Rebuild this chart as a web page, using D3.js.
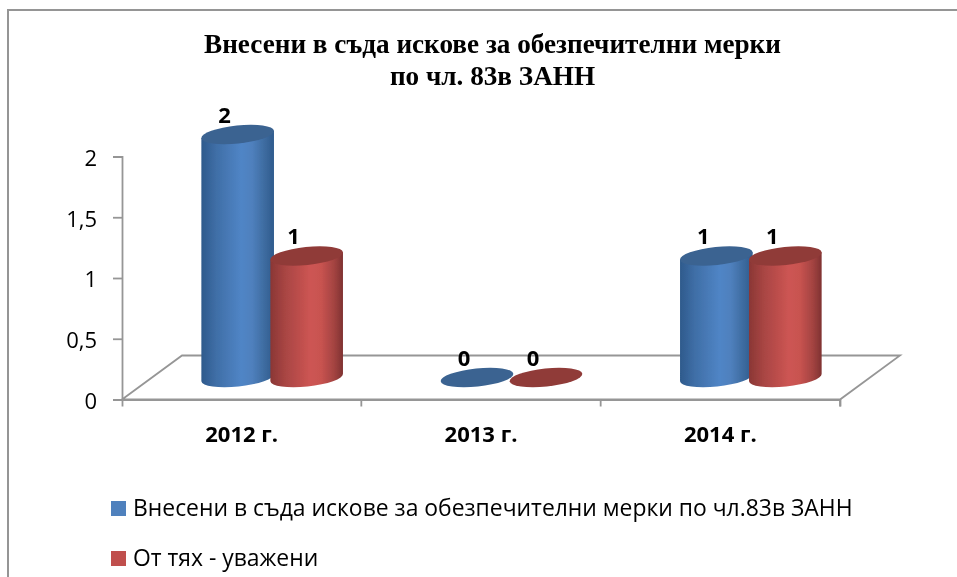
<!DOCTYPE html>
<html><head><meta charset="utf-8">
<style>html,body{margin:0;padding:0;background:#fff}svg{display:block}</style>
<script src="https://cdn.jsdelivr.net/npm/d3@7"></script></head><body>
<svg id="c" width="957" height="577"></svg>
<script>
const titleLines = ["Внесени в съда искове за обезпечителни мерки", "по чл. 83в ЗАНН"];
const categories = ["2012 г.", "2013 г.", "2014 г."];
const seriesNames = ["Внесени в съда искове за обезпечителни мерки по чл.83в ЗАНН", "От тях - уважени"];
const filed = [2, 0, 1];
const granted = [1, 0, 1];
const yTicks = [0, 0.5, 1, 1.5, 2];
const yTickLabels = ["0", "0,5", "1", "1,5", "2"];

const root = d3.select("#c");
const sans = "'Open Sans','Noto Sans',sans-serif";
const axisCol = "#969696";
const depthX = 60, depthY = -44;

const x = d3.scaleBand().domain(categories).range([122, 840]);
const y = d3.scaleLinear().domain([0, 2]).range([399.5, 156.5]);
const sub = d3.scaleBand().domain([0, 1]).range([-69, 69]);

const defs = root.append("defs");
const palette = [
  {id: "g0", stops: ["#2e5a8c", "#3f6ea6", "#5085c6", "#4f80bd", "#3c6a9e", "#2f5b8d"], top: "#3b6391", base: "#4f81bd"},
  {id: "g1", stops: ["#8a3735", "#a84543", "#cd5553", "#c85350", "#a34341", "#7f3231"], top: "#903b39", base: "#c0504d"}
];
palette.forEach(p => {
  const g = defs.append("linearGradient").attr("id", p.id);
  [0, .2, .55, .7, .88, 1].forEach((o, i) => g.append("stop").attr("offset", o).attr("stop-color", p.stops[i]));
});
defs.append("filter").attr("id", "soft")
  .attr("filterUnits", "userSpaceOnUse").attr("x", 0).attr("y", 0).attr("width", 957).attr("height", 577)
  .append("feGaussianBlur").attr("stdDeviation", 0.35);

const svg = root.append("g").attr("filter", "url(#soft)");

// Frame
svg.append("path").attr("d", "M8,577V10H957").attr("fill", "none").attr("stroke", "#959595").attr("stroke-width", 2);

// Floor
const fl = x.range();
svg.append("path")
  .attr("d", `M${fl[0]},${y(0)}L${fl[0] + depthX},${y(0) + depthY}H${fl[1] + depthX}L${fl[1]},${y(0)}Z`)
  .attr("fill", "none").attr("stroke", axisCol).attr("stroke-width", 1.8);

// Y axis
const yAxis = d3.axisLeft(y).tickValues(yTicks).tickSize(9).tickPadding(16)
  .tickFormat((d, i) => yTickLabels[i]);
const ga = svg.append("g").attr("transform", "translate(122,0)").call(yAxis);
ga.select(".domain").attr("stroke", axisCol).attr("stroke-width", 1.8);
ga.selectAll(".tick line").attr("stroke", axisCol).attr("stroke-width", 1.8);
ga.selectAll("text").attr("font-family", sans).attr("font-size", 22).attr("fill", "#000").attr("dy", "0.4em");

// X axis
const xAxis = d3.axisBottom(x).tickSize(7).tickSizeOuter(7).tickPadding(13);
const gx = svg.append("g").attr("transform", `translate(0,${y(0)})`).call(xAxis);
gx.select(".domain").attr("stroke", axisCol).attr("stroke-width", 1.8);
gx.selectAll(".tick line").attr("stroke", axisCol).attr("stroke-width", 1.8)
  .attr("transform", `translate(${x.bandwidth() / 2},0)`);
gx.selectAll("text").attr("font-family", sans).attr("font-size", 22).attr("font-weight", 700).attr("fill", "#000")
  .attr("y", 42).attr("dy", 0);

// Cylinders
const rx = 36.5, ry = 9, tilt = -6;
const cyl = svg.append("g");
const labels = svg.append("g");
const barDx = depthX / 2 + 0.5, barDy = depthY / 2;
[filed, granted].forEach((vals, s) => {
  const p = palette[s];
  categories.forEach((c, i) => {
    const v = vals[i];
    const cx = x(c) + x.bandwidth() / 2 + barDx + sub(s) + sub.bandwidth() / 2;
    const yb = y(0) + barDy, yt = y(v) + barDy;
    const a = tilt * Math.PI / 180;
    const dx = rx * Math.cos(a), dy = rx * Math.sin(a);
    const g = cyl.append("g");
    if (v > 0) {
      g.append("path")
        .attr("d", `M${cx - dx},${yt - dy}L${cx - dx},${yb - dy}A${rx},${ry} ${tilt} 0 0 ${cx + dx},${yb + dy}L${cx + dx},${yt + dy}Z`)
        .attr("fill", `url(#${p.id})`);
    }
    g.append("ellipse").attr("rx", rx).attr("ry", ry)
      .attr("transform", `translate(${cx},${yt}) rotate(${tilt})`)
      .attr("fill", p.top);
    labels.append("text").attr("x", cx - 13).attr("y", yt - 12).attr("text-anchor", "middle")
      .attr("font-family", sans).attr("font-size", 22).attr("font-weight", 700).attr("fill", "#000")
      .text(v);
  });
});

// Title
svg.append("g").selectAll("text").data(titleLines).join("text")
  .attr("x", 492.5).attr("y", (d, i) => 53 + i * 32).attr("text-anchor", "middle")
  .attr("font-family", "'Liberation Serif',serif").attr("font-weight", 700).attr("font-size", 27.2).attr("fill", "#000")
  .text(d => d);

// Legend
const lg = svg.append("g").selectAll("g").data(seriesNames).join("g")
  .attr("transform", (d, i) => `translate(111,${501 + i * 50})`);
lg.append("rect").attr("width", 15).attr("height", 15).attr("fill", (d, i) => palette[i].base);
lg.append("text").attr("x", 22).attr("y", 15).attr("font-family", sans).attr("font-size", 22.9).attr("fill", "#000").text(d => d);
</script></body></html>
